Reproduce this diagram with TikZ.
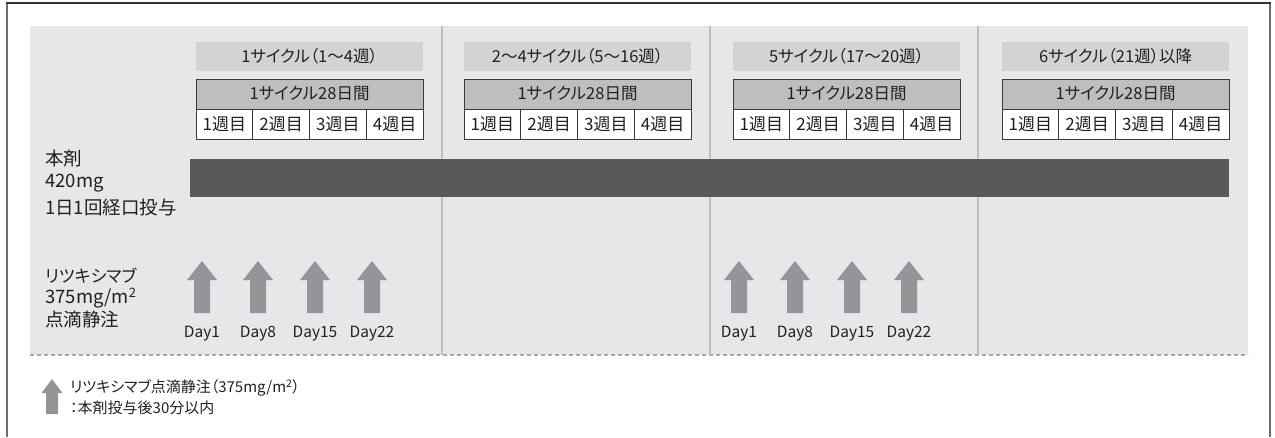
\documentclass[tikz,border=0pt]{standalone}
\usepackage{fontspec}
\setmainfont[RawFeature=+palt]{Noto Sans CJK JP}
\definecolor{bgc}{HTML}{E6E7E8}
\definecolor{titlec}{HTML}{D1D3D4}
\definecolor{headc}{HTML}{BCBEC0}
\definecolor{tablec}{HTML}{3A3A3A}
\definecolor{barc}{HTML}{58595B}
\definecolor{arrowc}{HTML}{939598}
\definecolor{divc}{HTML}{BCBEC0}
\definecolor{dashc}{HTML}{A7A9AC}
\definecolor{framec}{HTML}{6D6E71}
\definecolor{textc}{HTML}{231F20}
\tikzset{
  titlebox/.style={fill=titlec, minimum width=227, minimum height=29, inner sep=0, font=\fontsize{16.5}{18}\selectfont, text=textc},
  headbox/.style={fill=headc, draw=tablec, line width=0.9pt, minimum width=227, minimum height=30, inner sep=0, font=\fontsize{16.5}{18}\selectfont, text=textc},
  weekbox/.style={fill=white, draw=tablec, line width=0.9pt, minimum width=56.75, minimum height=30, inner sep=0, font=\fontsize{17}{18}\selectfont, text=textc},
  barbox/.style={fill=barc, minimum width=1039, minimum height=38, inner sep=0},
  lbl/.style={anchor=west, inner sep=0, font=\fontsize{18.5}{21}\selectfont, text=textc},
  daylbl/.style={inner sep=0, font=\fontsize{15.5}{18}\selectfont, text=textc},
  leglbl/.style={anchor=west, inner sep=0, font=\fontsize{15}{16}\selectfont, text=textc},
  uparrow/.pic={\fill[arrowc] (-15,0) -- (0,-19) -- (15,0) -- (8,0) -- (8,33) -- (-8,33) -- (-8,0) -- cycle;},
  legarrow/.pic={\fill[arrowc] (-10.5,0) -- (0,-14) -- (10.5,0) -- (6,0) -- (6,21) -- (-6,21) -- (-6,0) -- cycle;}
}

\begin{document}

\begin{tikzpicture}[x=1pt,y=-1pt]
\useasboundingbox (0,0) rectangle (1275,437);
\fill[white] (0,0) rectangle (1275,437);
% outer frame
\draw[framec, line width=1.5pt] (7,437) -- (7,3);
\draw[framec, line width=1.5pt] (1270,3) -- (1270,437);
\draw[black!80, line width=1.5pt] (6.25,3) -- (1270.75,3);
% gray area
\fill[bgc] (30,26) rectangle (1248,355);
\draw[dashc, line width=1.2pt, dash pattern=on 4pt off 3pt] (30,355) -- (1248,355);
% dividers
\foreach \dx in {442,710,978} \draw[divc, line width=1.5pt] (\dx,26) -- (\dx,355);
% columns
\foreach \c/\x/\ttl in {1/196/{1サイクル（1〜4週）}, 2/464/{2〜4サイクル（5〜16週）}, 3/733/{5サイクル（17〜20週）}, 4/1002/{6サイクル（21週）以降}} {
  \node[titlebox] (title\c) at (\x+113.5,56.5) {\ttl};
  \node[headbox] (head\c) at (\x+113.5,94) {1サイクル28日間};
  \foreach \k in {1,2,3,4} {
    \node[weekbox] (w\c-\k) at ({\x+(\k-0.5)*56.75},124) {\k 週目};
  }
}
% drug bar
\node[barbox] (bar) at (709.5,178) {};
% left labels
\node[lbl] (l1) at (45,159) {本剤};
\node[lbl] (l2) at (45,183) {420mg};
\node[lbl] (l3) at (45,207) {1日1回経口投与};
\node[lbl, font=\fontsize{17}{21}\selectfont] (r1) at (45,276) {リツキシマブ};
\node[lbl] (r2) at (45,298) {375mg/m\textsuperscript{2}};
\node[lbl] (r3) at (45,319) {点滴静注};
% arrows
\foreach \o in {0,537} {
  \foreach \ax/\d in {202/1,258/8,315/15,372/22} {
    \pic at (\ax+\o,280) {uparrow};
    \node[daylbl] (day\o-\d) at (\ax+\o,334) {Day\d};
  }
}
% legend
\pic at (52,393) {legarrow};
\node[leglbl] (leg1) at (70,388) {リツキシマブ点滴静注（375mg/m\textsuperscript{2}）};
\node[leglbl] (leg2) at (70,408) {：本剤投与後30分以内};
\end{tikzpicture}

\end{document}
